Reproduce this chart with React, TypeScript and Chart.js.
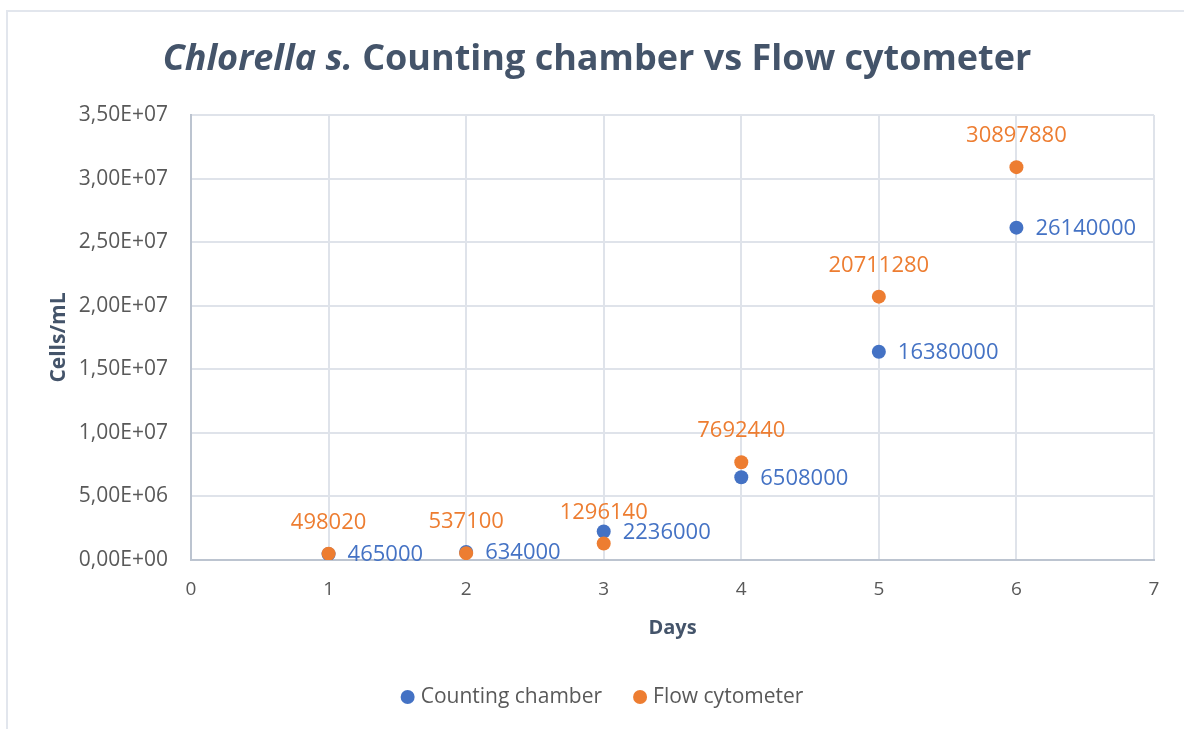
import React, { useEffect, useRef } from "react";
import { Chart, registerables } from "chart.js";

Chart.register(...registerables);

const days = [1, 2, 3, 4, 5, 6];
const countingChamber = [465000, 634000, 2236000, 6508000, 16380000, 26140000];
const flowCytometer = [498020, 537100, 1296140, 7692440, 20711280, 30897880];
const seriesNames = ["Counting chamber", "Flow cytometer"];
const titleItalic = "Chlorella s.";
const titleRest = " Counting chamber vs Flow cytometer";
const xTitle = "Days";
const yTitle = "Cells/mL";

const BLUE = "#4472c4";
const ORANGE = "#ed7d31";
const FONT = "'Open Sans', sans-serif";

function fmtSci(v: number): string {
  const s = v.toExponential(2);
  const [mant, exp] = s.split("e");
  const sign = exp[0] === "-" ? "-" : "+";
  const digits = exp.replace(/[+-]/, "").padStart(2, "0");
  return mant.replace(".", ",") + "E" + sign + digits;
}

const decorPlugin = {
  id: "decor",
  beforeDraw(chart: any) {
    const ctx = chart.ctx;
    ctx.save();
    ctx.fillStyle = "#ffffff";
    ctx.fillRect(0, 0, chart.width, chart.height);
    ctx.strokeStyle = "#e2e6ed";
    ctx.lineWidth = 2;
    ctx.beginPath();
    ctx.moveTo(7, chart.height);
    ctx.lineTo(7, 11);
    ctx.lineTo(chart.width, 11);
    ctx.stroke();
    ctx.restore();
  },
  afterDatasetsDraw(chart: any) {
    const ctx = chart.ctx;
    ctx.save();
    ctx.font = `22px ${FONT}`;
    chart.data.datasets.forEach((ds: any, i: number) => {
      const meta = chart.getDatasetMeta(i);
      meta.data.forEach((pt: any, j: number) => {
        const val = ds.data[j].y;
        const label = String(val);
        if (i === 0) {
          ctx.fillStyle = BLUE;
          ctx.textAlign = "left";
          ctx.textBaseline = "middle";
          ctx.fillText(label, pt.x + 19, pt.y + 1);
        } else {
          ctx.fillStyle = ORANGE;
          ctx.textAlign = "center";
          ctx.textBaseline = "middle";
          ctx.fillText(label, pt.x, pt.y - 31);
        }
      });
    });
    ctx.restore();
  },
  afterDraw(chart: any) {
    const ctx = chart.ctx;
    ctx.save();
    const fI = `italic bold 36px ${FONT}`;
    const fR = `bold 36px ${FONT}`;
    ctx.font = fI;
    const wI = ctx.measureText(titleItalic).width;
    ctx.font = fR;
    const wR = ctx.measureText(titleRest).width;
    const cx = 597;
    const x = cx - (wI + wR) / 2;
    ctx.fillStyle = "#44546a";
    ctx.textBaseline = "middle";
    ctx.textAlign = "left";
    ctx.font = fI;
    ctx.fillText(titleItalic, x, 60);
    ctx.font = fR;
    ctx.fillText(titleRest, x + wI, 60);

    ctx.font = `21px ${FONT}`;
    const colors = [BLUE, ORANGE];
    const widths = seriesNames.map((n) => ctx.measureText(n).width);
    const dot = 14, gapIn = 6, gapOut = 31;
    const total = widths.reduce((a, w) => a + dot + gapIn + w, 0) + gapOut * (seriesNames.length - 1);
    let lx = 602 - total / 2;
    const ly = 697;
    seriesNames.forEach((n, i) => {
      ctx.fillStyle = colors[i];
      ctx.beginPath();
      ctx.arc(lx + dot / 2, ly, dot / 2, 0, Math.PI * 2);
      ctx.fill();
      ctx.fillStyle = "#595959";
      ctx.textBaseline = "middle";
      ctx.fillText(n, lx + dot + gapIn, ly);
      lx += dot + gapIn + widths[i] + gapOut;
    });
    ctx.restore();
  },
};

export default function App() {
  const ref = useRef<HTMLCanvasElement | null>(null);
  useEffect(() => {
    if (!ref.current) return;
    const chart = new Chart(ref.current, {
      type: "scatter",
      data: {
        datasets: [
          {
            label: seriesNames[0],
            data: days.map((d, i) => ({ x: d, y: countingChamber[i] })),
            backgroundColor: BLUE,
            borderWidth: 0,
            pointRadius: 7,
            order: 1,
          },
          {
            label: seriesNames[1],
            data: days.map((d, i) => ({ x: d, y: flowCytometer[i] })),
            backgroundColor: ORANGE,
            borderWidth: 0,
            pointRadius: 7,
            order: 0,
          },
        ],
      },
      options: {
        responsive: false,
        animation: false,
        devicePixelRatio: 1,
        layout: { padding: { top: 115, right: 30, left: 0, bottom: 0 } },
        plugins: {
          legend: { display: false },
          title: { display: false },
          tooltip: { enabled: false },
        },
        scales: {
          x: {
            type: "linear",
            min: 0,
            max: 7,
            ticks: {
              stepSize: 1,
              padding: 18,
              color: "#595959",
              font: { family: FONT, size: 19 },
            },
            grid: { color: "#dfe3ea", lineWidth: 2, drawTicks: false },
            border: { color: "#bcc4d0", width: 2 },
            title: {
              display: true,
              text: xTitle,
              color: "#44546a",
              font: { family: FONT, size: 20, weight: "bold" },
              padding: { top: 0, bottom: 89 },
            },
            afterFit(scale: any) {
              scale.height = 169;
            },
          },
          y: {
            type: "linear",
            min: 0,
            max: 35000000,
            ticks: {
              stepSize: 5000000,
              padding: 23,
              color: "#595959",
              font: { family: FONT, size: 21 },
              callback: (v: any) => fmtSci(Number(v)),
            },
            grid: { color: "#dfe3ea", lineWidth: 2, drawTicks: false },
            border: { color: "#bcc4d0", width: 2 },
            title: {
              display: true,
              text: yTitle,
              color: "#44546a",
              font: { family: FONT, size: 21, weight: "bold" },
              padding: { top: 46, bottom: 0 },
            },
            afterFit(scale: any) {
              scale.width = 191;
            },
          },
        },
      },
      plugins: [decorPlugin],
    });
    return () => chart.destroy();
  }, []);
  return (
    <div style={{ position: "absolute", left: 0, top: 0, width: 1184, height: 729, background: "#fff" }}>
      <canvas ref={ref} width={1184} height={729} style={{ display: "block" }} />
    </div>
  );
}
